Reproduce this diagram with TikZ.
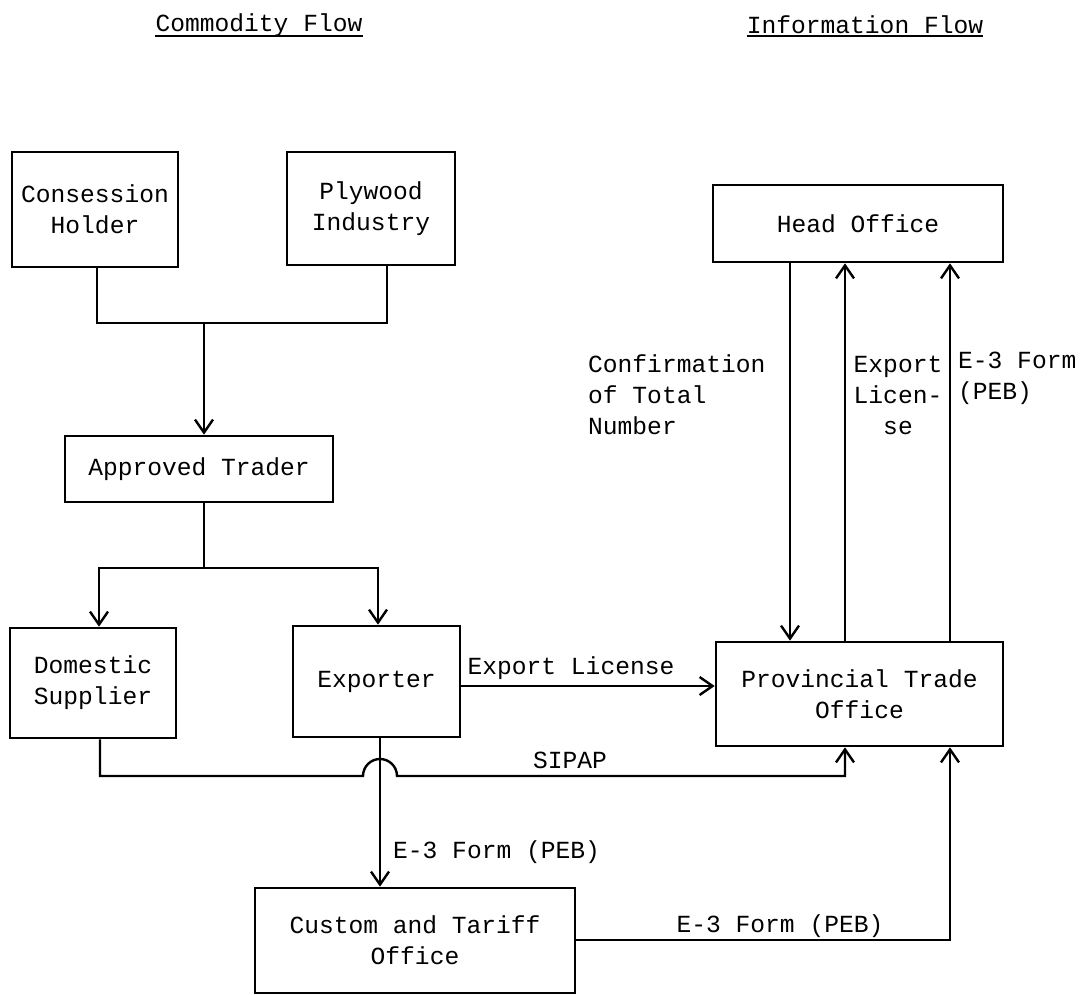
\documentclass[tikz,border=0pt]{standalone}
\usepackage{fontspec}
\setmainfont{Liberation Mono}
\usetikzlibrary{arrows.meta}
\begin{document}
\begin{tikzpicture}[x=1pt,y=-1pt,
  txt/.style={font=\fontsize{24.6}{31}\selectfont},
  box/.style={txt,draw,line width=2.6pt,inner sep=0pt,align=center},
  lbl/.style={txt,inner sep=0pt},
  conn/.style={line width=2.4pt},
  arr/.style={conn,-{Straight Barb[length=13pt,width=18pt,line width=2.4pt]}}]
\useasboundingbox[fill=white] (0,0) rectangle (1090,995);

% titles
\node[lbl] (t1) at (259,25) {Commodity Flow};
\node[lbl] (t2) at (865,25) {Information Flow};
\draw[line width=2.2pt] (t1.west |- 0,36) -- (t1.east |- 0,36);
\draw[line width=2.2pt] (t2.west |- 0,36) -- (t2.east |- 0,36);

% boxes
\node[box,minimum width=166pt,minimum height=115pt] (ch) at (95,209.5) {Consession\\Holder};
\node[box,minimum width=168pt,minimum height=113pt] (py) at (371,208.5) {Plywood\\Industry};
\node[box,minimum width=268pt,minimum height=66pt] (at) at (199,469) {Approved Trader};
\node[box,minimum width=166pt,minimum height=110pt] (ds) at (93,683) {Domestic\\Supplier};
\node[box,minimum width=167pt,minimum height=111pt] (ex) at (376.5,681.5) {Exporter};
\node[box,minimum width=290pt,minimum height=77pt] (ho) at (858,223.5) {Head Office};
\node[box,minimum width=287pt,minimum height=104pt] (pt) at (859.5,694) {Provincial Trade\\Office};
\node[box,minimum width=320pt,minimum height=105pt] (ct) at (415,940.5) {Custom and Tariff\\Office};

% commodity flow connectors
\coordinate (j1) at (204,323);
\coordinate (j2) at (204,568);
\draw[conn] (ch.south -| 97,0) |- (j1) -| (py.south -| 387,0);
\draw[arr] (j1) -- (at.north -| j1);
\draw[conn] (at.south -| j2) -- (j2);
\draw[arr] (j2) -| (ds.north -| 99,0);
\draw[arr] (j2) -| (ex.north -| 378,0);

% exporter -> provincial
\draw[arr] (ex.east |- 0,686) -- (pt.west |- 0,686);
\node[lbl] (lel) at (571,668) {Export License};

% SIPAP with bridge
\coordinate (s1) at (100,776);
\coordinate (s2) at (363,776);
\draw[arr] (ds.south -| s1) -- (s1) -- (s2) arc[start angle=180,end angle=0,radius=17pt] -- (845,776) -- (pt.south -| 845,0);
\node[lbl] (lsipap) at (570,760) {SIPAP};

% exporter -> custom
\draw[arr] (ex.south -| 380,0) -- (ct.north -| 380,0);
\node[lbl,anchor=west] (le3a) at (393,852) {E-3 Form (PEB)};

% custom -> provincial
\draw[arr] (ct.east |- 0,940) -| (pt.south -| 950,0);
\node[lbl] (le3b) at (780,926) {E-3 Form (PEB)};

% information flow between head office and provincial office
\draw[arr] (ho.south -| 790,0) -- (pt.north -| 790,0);
\draw[arr] (pt.north -| 845,0) -- (ho.south -| 845,0);
\draw[arr] (pt.north -| 950,0) -- (ho.south -| 950,0);
\node[lbl,align=left,anchor=west] (lconf) at (588,395) {Confirmation\\of Total\\Number};
\node[lbl,align=center] (lexl) at (898,395) {Export\\Licen-\\se};
\node[lbl,align=left,anchor=west] (le3c) at (958,378) {E-3 Form\\(PEB)};
\end{tikzpicture}
\end{document}
